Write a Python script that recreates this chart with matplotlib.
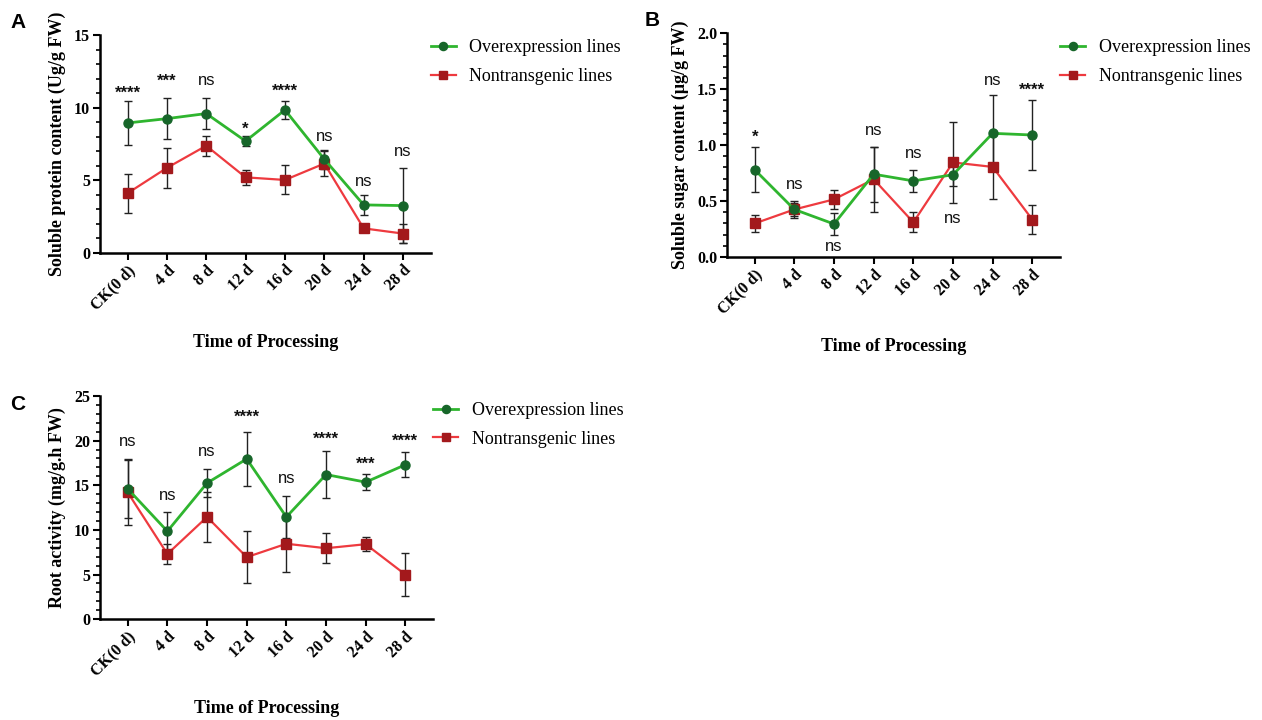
import matplotlib
matplotlib.use('Agg')
import matplotlib.pyplot as plt
from matplotlib.ticker import MultipleLocator, FormatStrFormatter

categories = ['CK(0 d)', '4 d', '8 d', '12 d', '16 d', '20 d', '24 d', '28 d']
series_names = ['Overexpression lines', 'Nontransgenic lines']

# Panel A: soluble protein content
protein_oe = [8.95, 9.25, 9.6, 7.7, 9.85, 6.45, 3.3, 3.25]
protein_oe_err = [1.5, 1.4, 1.05, 0.35, 0.6, 0.65, 0.7, 2.6]
protein_nt = [4.1, 5.85, 7.38, 5.2, 5.02, 6.15, 1.68, 1.32]
protein_nt_err = [1.35, 1.36, 0.7, 0.52, 1.0, 0.85, 0.15, 0.65]
protein_sig = ['****', '***', 'ns', '*', '****', 'ns', 'ns', 'ns']
protein_sig_y = [11.4, 12.2, 11.85, 8.9, 11.55, 8.0, 4.9, 7.0]

# Panel B: soluble sugar content
sugar_oe = [0.78, 0.425, 0.295, 0.74, 0.68, 0.735, 1.105, 1.09]
sugar_oe_err = [0.2, 0.075, 0.1, 0.245, 0.1, 0.1, 0.34, 0.31]
sugar_nt = [0.30, 0.425, 0.515, 0.695, 0.31, 0.845, 0.805, 0.335]
sugar_nt_err = [0.075, 0.06, 0.085, 0.29, 0.09, 0.365, 0.29, 0.13]
sugar_sig = ['*', 'ns', 'ns', 'ns', 'ns', 'ns', 'ns', '****']
sugar_sig_y = [1.12, 0.65, 0.09, 1.13, 0.925, 0.34, 1.58, 1.54]

# Panel C: root activity
root_oe = [14.6, 9.85, 15.25, 17.95, 11.45, 16.2, 15.35, 17.3]
root_oe_err = [3.3, 2.2, 1.55, 3.05, 2.4, 2.6, 0.9, 1.4]
root_nt = [14.2, 7.3, 11.45, 6.95, 8.45, 7.95, 8.4, 5.0]
root_nt_err = [3.65, 1.1, 2.85, 2.95, 3.2, 1.65, 0.8, 2.4]
root_sig = ['ns', 'ns', 'ns', '****', 'ns', '****', '***', '****']
root_sig_y = [19.9, 13.9, 18.8, 23.2, 15.8, 20.8, 18.0, 20.6]

SERIF = 'Liberation Serif'
SANS = 'Liberation Sans'
GREEN_LINE = '#2fb52f'
GREEN_MARK = '#17662a'
RED_LINE = '#ee3a3f'
RED_MARK = '#a3191c'
ERR = '#222222'

W, H = 1262, 720
fig = plt.figure(figsize=(W / 100, H / 100), dpi=100)


def panel(rect, letter, letter_xy, legend_y, oe, oe_err, nt, nt_err, sig, sig_y,
          ymax, major, minor, ylabel, fmt):
    ax = fig.add_axes(rect)
    x = list(range(len(categories)))
    ax.errorbar(x, oe, yerr=oe_err, fmt='none', ecolor=ERR, elinewidth=1.0,
                capsize=3, capthick=1.0, zorder=2)
    ax.errorbar(x, nt, yerr=nt_err, fmt='none', ecolor=ERR, elinewidth=1.0,
                capsize=3, capthick=1.0, zorder=2)
    ax.plot(x, nt, color=RED_LINE, lw=1.6, marker='s', markersize=6.5,
            markerfacecolor=RED_MARK, markeredgecolor=RED_MARK, zorder=3,
            label=series_names[1])
    ax.plot(x, oe, color=GREEN_LINE, lw=2.0, marker='o', markersize=6.5,
            markerfacecolor=GREEN_MARK, markeredgecolor=GREEN_MARK, zorder=4,
            label=series_names[0])
    for xi, s, yv in zip(x, sig, sig_y):
        if s == 'ns':
            ax.text(xi, yv, s, ha='center', va='center', fontsize=12,
                    family=SANS, color='#111111')
        else:
            ax.annotate(s, (xi, yv), xytext=(0, -4), textcoords='offset points',
                        ha='center', va='center', fontsize=12, family=SANS,
                        fontweight='bold', color='#111111')
    ax.set_xlim(-0.7, 7.7)
    ax.set_ylim(0, ymax)
    ax.yaxis.set_major_locator(MultipleLocator(major))
    ax.yaxis.set_minor_locator(MultipleLocator(minor))
    ax.yaxis.set_major_formatter(FormatStrFormatter(fmt))
    ax.set_xticks(x)
    ax.set_xticklabels(categories, rotation=45, ha='right', rotation_mode='anchor',
                       fontsize=11.5, family=SERIF, fontweight='bold')
    for lab in ax.get_yticklabels():
        lab.set_family(SERIF)
        lab.set_fontweight('bold')
        lab.set_fontsize(11.5)
    for side in ('top', 'right'):
        ax.spines[side].set_visible(False)
    for side in ('left', 'bottom'):
        ax.spines[side].set_linewidth(1.8)
    ax.tick_params(axis='both', which='major', direction='out', length=5, width=1.5,
                   pad=2)
    ax.tick_params(axis='y', which='minor', direction='out', length=3, width=1.2)
    ax.tick_params(axis='x', which='minor', bottom=False)
    ax.set_ylabel(ylabel, family=SERIF, fontweight='bold', fontsize=13, labelpad=6)
    ax.set_xlabel('Time of Processing', family=SERIF, fontweight='bold', fontsize=13,
                  labelpad=15)
    handles, labels = ax.get_legend_handles_labels()
    ax.legend(handles[::-1], labels[::-1], loc='upper left',
              bbox_to_anchor=(1.0, legend_y), frameon=False,
              prop={'family': SERIF, 'size': 13}, handlelength=1.4,
              handletextpad=0.75, labelspacing=0.65, markerscale=0.9,
              borderaxespad=0, borderpad=0)
    fig.text(letter_xy[0] / W, 1 - letter_xy[1] / H, letter, family=SANS,
             fontweight='bold', fontsize=15, ha='center', va='center')
    return ax


panel([0.0792, 0.649, 0.262, 0.302], 'A', (18, 22), 0.982,
      protein_oe, protein_oe_err, protein_nt,
      protein_nt_err, protein_sig, protein_sig_y, 15, 5, 1,
      'Soluble protein content (Ug/g FW)', '%d')
panel([0.576, 0.643, 0.264, 0.311], 'B', (652, 21), 0.973,
      sugar_oe, sugar_oe_err, sugar_nt,
      sugar_nt_err, sugar_sig, sugar_sig_y, 2.0, 0.5, 0.1,
      'Soluble sugar content (\u03bcg/g FW)', '%.1f')
panel([0.0792, 0.140, 0.264, 0.310], 'C', (18, 405), 0.973,
      root_oe, root_oe_err, root_nt,
      root_nt_err, root_sig, root_sig_y, 25, 5, 1,
      'Root activity (mg/g.h FW)', '%d')

fig.savefig('out.png', dpi=100)
